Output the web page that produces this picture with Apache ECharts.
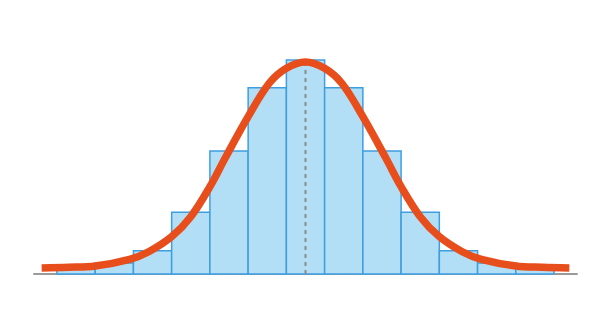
<!DOCTYPE html>
<html>
<head>
<meta charset="utf-8">
<script src="https://cdn.jsdelivr.net/npm/echarts@6/dist/echarts.min.js"></script>
<style>html,body{margin:0;padding:0;background:#fff;}#c{width:612px;height:322px;}</style>
</head>
<body>
<div id="c"></div>
<script>
// Histogram bins (centres, in bin units) and their heights
const binCenters = [-6, -5, -4, -3, -2, -1, 0, 1, 2, 3, 4, 5, 6];
const binHeights = [6.5, 11, 23.3, 61.7, 123, 186.3, 214, 186.3, 123, 61.7, 23.3, 11, 6.5];

// Fitted curve
const curveX = [-6.9, -6.2, -5.5, -4.6, -4.1, -3.5, -3.0, -2.5, -2.1, -1.5, -0.95, -0.5, 0,
                0.5, 0.95, 1.5, 2.1, 2.5, 3.0, 3.5, 4.1, 4.6, 5.5, 6.2, 6.9];
const curveY = [6, 6.7, 8, 14.7, 22.3, 37.3, 57.3, 87.3, 116, 157.3, 190.7, 205.7, 212,
                205.7, 190.7, 157.3, 116, 87.3, 57.3, 37.3, 22.3, 14.7, 8, 6.7, 6];

// Mean marker
const meanX = 0;
const meanTop = 214;

const chart = echarts.init(document.getElementById('c'), null, {renderer: 'canvas'});

const barData = binCenters.map((c, i) => [c, binHeights[i]]);
const curveData = curveX.map((x, i) => [x, curveY[i]]);

chart.setOption({
  animation: false,
  backgroundColor: '#ffffff',
  grid: {left: 34, right: 35, top: 24, bottom: 48},
  xAxis: {
    type: 'value', min: -7.1, max: 7.1,
    axisLine: {show: true, lineStyle: {color: '#9a9a9a', width: 2}},
    axisTick: {show: false}, axisLabel: {show: false}, splitLine: {show: false}
  },
  yAxis: {
    type: 'value', min: 0, max: 250, show: false
  },
  series: [
    {
      type: 'custom',
      z: 1,
      data: barData,
      renderItem: function (params, api) {
        const c = api.value(0), h = api.value(1);
        const p0 = api.coord([c - 0.5, h]);
        const p1 = api.coord([c + 0.5, 0]);
        return {
          type: 'rect',
          shape: {x: p0[0], y: p0[1], width: p1[0] - p0[0], height: p1[1] - p0[1]},
          style: {fill: '#b3dff6', stroke: '#3e9ee0', lineWidth: 1.5}
        };
      }
    },
    {
      type: 'line',
      z: 2,
      data: [[meanX, 0], [meanX, meanTop]],
      symbol: 'none',
      lineStyle: {color: '#8a8a8a', width: 2, type: [4, 4]}
    },
    {
      type: 'line',
      z: 3,
      data: curveData,
      smooth: 0.35,
      symbol: 'none',
      lineStyle: {color: '#e84e1c', width: 7.5, cap: 'butt'}
    }
  ]
});
</script>
</body>
</html>
